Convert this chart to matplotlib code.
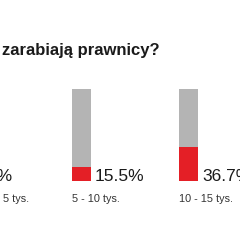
import matplotlib.pyplot as plt

plt.rcParams['font.family'] = ['Liberation Sans', 'DejaVu Sans']

title = 'Ile zarabiają prawnicy?'
categories = ['poniżej 5 tys.', '5 - 10 tys.', '10 - 15 tys.']
shares = [4.0, 15.5, 36.7]

gray = '#b4b4b4'
red = '#e41f26'

fig = plt.figure(figsize=(2.4, 2.4), dpi=100)

# one unit on x = 107 px, bar 1 centered at 81 px
px = 1 / 107
xmin = 1 - 81.3 * px
ax = fig.add_axes([0, 59.3 / 240, 1, 91.4 / 240])
ax.set_xlim(xmin, xmin + 240 * px)
ax.set_ylim(0, 100)
ax.axis('off')

w = 18.5 * px
x = list(range(len(categories)))
ax.bar(x, [100] * len(x), width=w, color=gray, linewidth=0)
ax.bar(x, shares, width=w, color=red, linewidth=0)

for i, (cat, v) in enumerate(zip(categories, shares)):
    ax.text(i + w / 2 + 4.5 * px, 0, f'{v:g}%', ha='left', va='baseline',
            fontsize=12.5, color='#1a1a1a', clip_on=False)
    ax.annotate(cat, xy=(i - w / 2, 0), xytext=(0, -13.5),
                textcoords='offset points', ha='left', va='center',
                fontsize=7.8, color='#333333', annotation_clip=False)

fig.text(160 / 240, 184.5 / 240, title, ha='right', va='baseline',
         fontsize=12, fontweight='bold', color='#1a1a1a')

fig.savefig('out.png', dpi=100, facecolor='white')
